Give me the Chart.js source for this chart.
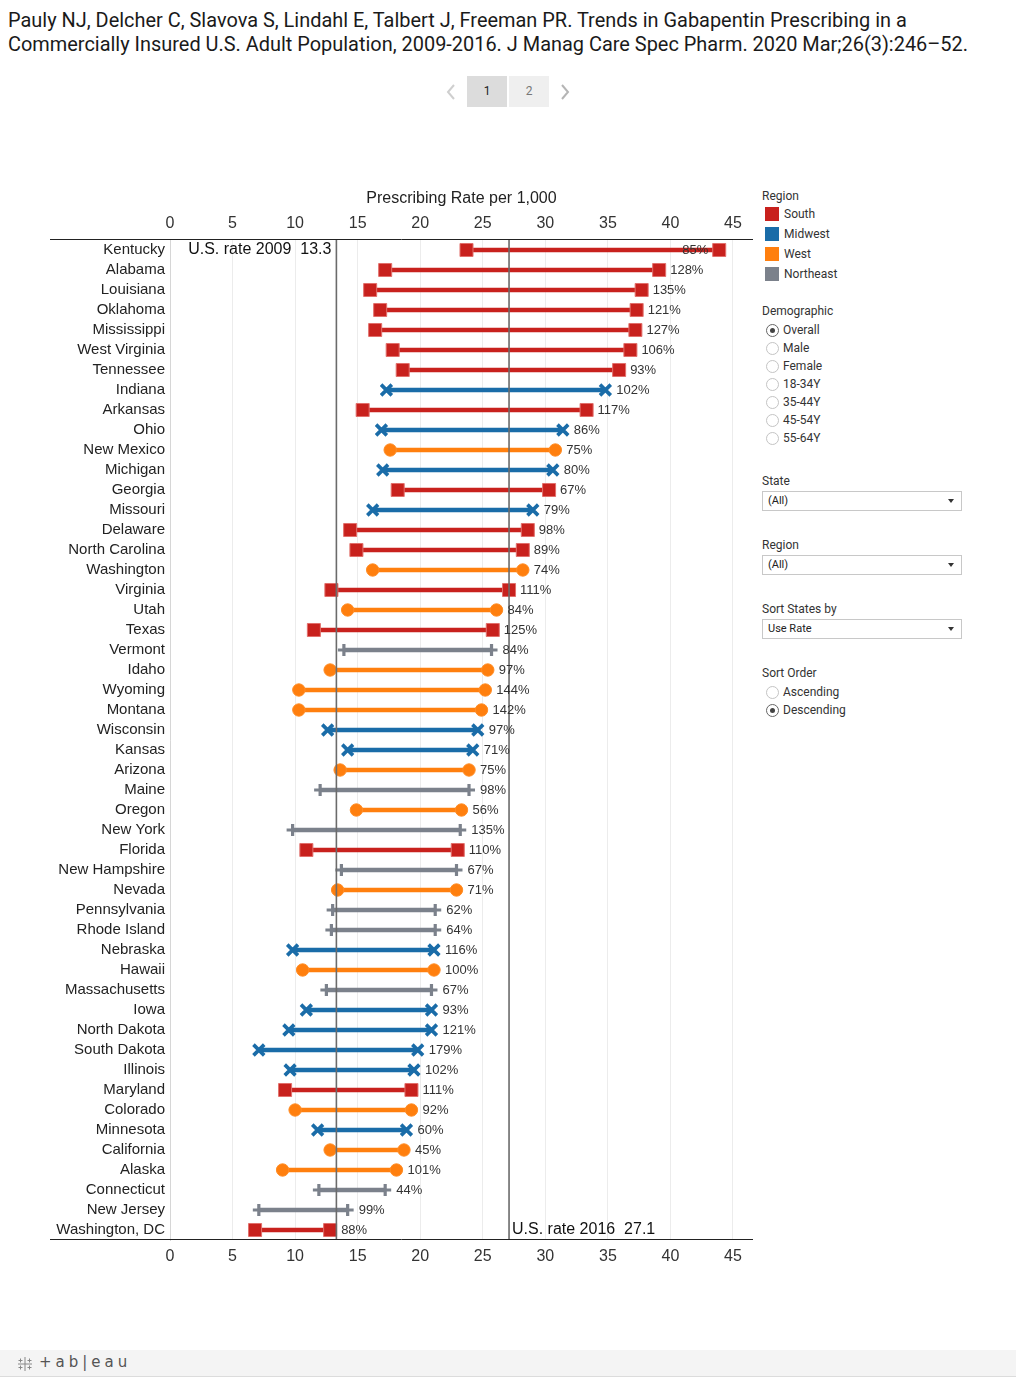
<!DOCTYPE html>
<html>
<head>
<meta charset="utf-8">
<script src="https://cdn.jsdelivr.net/npm/chart.js@4.4.1/dist/chart.umd.min.js"></script>
<style>
  html,body{margin:0;padding:0;background:#fff;}
  body{width:1016px;height:1377px;position:relative;overflow:hidden;font-family:Roboto,"Liberation Sans",sans-serif;color:#333;}
  .abs{position:absolute;white-space:nowrap;}
  .title{left:8px;font-size:20px;line-height:24px;color:#1a1a1a;transform-origin:0 50%;}
  .pg{top:76px;width:40px;height:31px;line-height:31px;text-align:center;font-size:12px;}
  .ptxt{font-size:12px;line-height:16px;color:#333;}
  .sw{width:14px;height:14px;}
  .radio{width:11px;height:11px;border:1px solid #c4c4c4;border-radius:50%;background:#fff;}
  .radio.on{border-color:#666;}
  .radio.on::after{content:"";position:absolute;left:3px;top:3px;width:5px;height:5px;border-radius:50%;background:#444;}
  .dd{width:198px;height:18px;border:1px solid #c8c8c8;font-size:11px;line-height:18px;color:#222;}
  .dd span{position:absolute;left:5px;top:0;}
  .dd i{position:absolute;right:7px;top:7px;width:0;height:0;border-left:3px solid transparent;border-right:3px solid transparent;border-top:4px solid #333;}
  #chartWrap{position:absolute;left:0;top:182px;width:760px;height:1100px;}
  #foot{position:absolute;left:0;top:1350px;width:1016px;height:26px;background:#f4f4f4;border-bottom:1px solid #dcdcdc;}
</style>
</head>
<body>
<div class="abs title" id="t1" style="top:8px;">Pauly NJ, Delcher C, Slavova S, Lindahl E, Talbert J, Freeman PR. Trends in Gabapentin Prescribing in a</div>
<div class="abs title" id="t2" style="top:32px;">Commercially Insured U.S. Adult Population, 2009-2016. J Manag Care Spec Pharm. 2020 Mar;26(3):246&#8211;52.</div>

<svg class="abs" style="left:445px;top:84px;" width="12" height="16"><polyline points="9,1 3,8 9,15" fill="none" stroke="#cfcfcf" stroke-width="2"/></svg>
<div class="abs pg" style="left:467px;background:#dcdcdc;color:#222;">1</div>
<div class="abs pg" style="left:509px;background:#efefef;color:#777;">2</div>
<svg class="abs" style="left:559px;top:84px;" width="12" height="16"><polyline points="3,1 9,8 3,15" fill="none" stroke="#b5b5b5" stroke-width="2"/></svg>

<div id="chartWrap"><canvas id="c" width="760" height="1100"></canvas></div>

<!-- right-hand panel -->
<div class="abs ptxt" style="left:762px;top:188px;">Region</div>
<div id="legendBox"></div>
<div class="abs ptxt" style="left:762px;top:303px;">Demographic</div>
<div id="demoBox"></div>
<div class="abs ptxt" style="left:762px;top:473px;">State</div>
<div class="abs dd" style="left:762px;top:491px;"><span>(All)</span><i></i></div>
<div class="abs ptxt" style="left:762px;top:537px;">Region</div>
<div class="abs dd" style="left:762px;top:555px;"><span>(All)</span><i></i></div>
<div class="abs ptxt" style="left:762px;top:601px;">Sort States by</div>
<div class="abs dd" style="left:762px;top:619px;"><span>Use Rate</span><i></i></div>
<div class="abs ptxt" style="left:762px;top:665px;">Sort Order</div>
<div id="sortBox"></div>

<div id="foot">
  <svg class="abs" style="left:17px;top:6px;" width="16" height="16">
    <g stroke="#888" stroke-width="1">
      <line x1="8" y1="1" x2="8" y2="15"/><line x1="1" y1="8" x2="15" y2="8"/>
      <line x1="3.5" y1="2.5" x2="3.5" y2="6.5"/><line x1="1.5" y1="4.5" x2="5.5" y2="4.5"/>
      <line x1="12.5" y1="2.5" x2="12.5" y2="6.5"/><line x1="10.5" y1="4.5" x2="14.5" y2="4.5"/>
      <line x1="3.5" y1="9.5" x2="3.5" y2="13.5"/><line x1="1.5" y1="11.5" x2="5.5" y2="11.5"/>
      <line x1="12.5" y1="9.5" x2="12.5" y2="13.5"/><line x1="10.5" y1="11.5" x2="14.5" y2="11.5"/>
    </g>
  </svg>
  <div class="abs" style="left:39px;top:3px;font-size:15px;letter-spacing:4px;color:#555;font-family:'DejaVu Sans',sans-serif;">+ab|eau</div>
</div>

<script>
// ---------------- data ----------------
const states = ["Kentucky","Alabama","Louisiana","Oklahoma","Mississippi","West Virginia","Tennessee","Indiana","Arkansas","Ohio",
  "New Mexico","Michigan","Georgia","Missouri","Delaware","North Carolina","Washington","Virginia","Utah","Texas",
  "Vermont","Idaho","Wyoming","Montana","Wisconsin","Kansas","Arizona","Maine","Oregon","New York",
  "Florida","New Hampshire","Nevada","Pennsylvania","Rhode Island","Nebraska","Hawaii","Massachusetts","Iowa","North Dakota",
  "South Dakota","Illinois","Maryland","Colorado","Minnesota","California","Alaska","Connecticut","New Jersey","Washington, DC"];
const stateRegion = ["S","S","S","S","S","S","S","M","S","M",
  "W","M","S","M","S","S","W","S","W","S",
  "N","W","W","W","M","M","W","N","W","N",
  "S","N","W","N","N","M","W","N","M","M",
  "M","M","S","W","M","W","W","N","N","S"];
const rate2009 = [23.7,17.2,16.0,16.8,16.4,17.8,18.6,17.3,15.4,16.9,
  17.6,17.0,18.2,16.2,14.4,14.9,16.2,12.9,14.2,11.5,
  13.9,12.8,10.3,10.3,12.6,14.2,13.6,12.0,14.9,9.8,
  10.9,13.7,13.4,13.0,12.9,9.8,10.6,12.5,10.9,9.5,
  7.1,9.6,9.2,10.0,11.8,12.8,9.0,11.9,7.1,6.8];
const rate2016 = [43.9,39.1,37.7,37.3,37.2,36.8,35.9,34.8,33.3,31.4,
  30.8,30.6,30.3,29.0,28.6,28.2,28.2,27.1,26.1,25.8,
  25.7,25.4,25.2,24.9,24.6,24.2,23.9,23.9,23.3,23.2,
  23.0,22.9,22.9,21.2,21.2,21.1,21.1,20.9,20.9,20.9,
  19.8,19.5,19.3,19.3,18.9,18.7,18.1,17.2,14.2,12.8];
const pctChange = [85,128,135,121,127,106,93,102,117,86,
  75,80,67,79,98,89,74,111,84,125,
  84,97,144,142,97,71,75,98,56,135,
  110,67,71,62,64,116,100,67,93,121,
  179,102,111,92,60,45,101,44,99,88];
const usRate2009 = 13.3;
const usRate2016 = 27.1;
const xTicksStep = 5;
const regionNames = ["South","Midwest","West","Northeast"];
const regionKeys = ["S","M","W","N"];
const demographics = ["Overall","Male","Female","18-34Y","35-44Y","45-54Y","55-64Y"];
const sortOrders = ["Ascending","Descending"];

// ---------------- styles ----------------
const regionColor = {S:"#c8211d", M:"#1a6ca8", W:"#ff7f0e", N:"#7b818b"};
const regionEdge  = {S:"#e2706c", M:"#1a6ca8", W:"#ff8d26", N:"#7b818b"};
const regionStyle = {S:"rect", M:"crossRot", W:"circle", N:"cross"};
const regionRadius = {S:9.2, M:7.6, W:6.2, N:6};
const regionBW = {S:1, M:3.6, W:1, N:3.2};

// title fit
(function(){
  const c = document.createElement("canvas").getContext("2d");
  c.font = "20px Roboto";
  const w = c.measureText(document.getElementById("t2").textContent).width;
  const s = 960 / w;
  ["t1","t2"].forEach(id=>document.getElementById(id).style.transform = "scaleX(" + s + ")");
})();

// side panel
(function(){
  let h = "";
  regionNames.forEach((n,i)=>{
    const cy = 214 + i*20;
    h += `<div class="abs sw" style="left:765px;top:${cy-7}px;background:${regionColor[regionKeys[i]]};"></div>`;
    h += `<div class="abs ptxt" style="left:784px;top:${cy-8}px;">${n}</div>`;
  });
  document.getElementById("legendBox").innerHTML = h;
  h = "";
  demographics.forEach((n,i)=>{
    const cy = 330 + i*18;
    h += `<div class="abs radio${i===0?' on':''}" style="left:766px;top:${cy-6}px;"></div>`;
    h += `<div class="abs ptxt" style="left:783px;top:${cy-8}px;">${n}</div>`;
  });
  document.getElementById("demoBox").innerHTML = h;
  h = "";
  sortOrders.forEach((n,i)=>{
    const cy = 692 + i*18;
    h += `<div class="abs radio${i===1?' on':''}" style="left:766px;top:${cy-6}px;"></div>`;
    h += `<div class="abs ptxt" style="left:783px;top:${cy-8}px;">${n}</div>`;
  });
  document.getElementById("sortBox").innerHTML = h;
})();

// ---------------- chart ----------------
const FONT = "'Liberation Sans', Arial, sans-serif";

const overlay = {
  id: "overlay",
  afterDatasetsDraw(chart){
    const {ctx, chartArea:a} = chart;
    const x = chart.scales.x, y = chart.scales.y;
    ctx.save();
    // reference lines
    ctx.strokeStyle = "#6b6b6b";
    ctx.lineWidth = 1.6;
    [usRate2009, usRate2016].forEach(v=>{
      const px = x.getPixelForValue(v);
      ctx.beginPath(); ctx.moveTo(px, a.top); ctx.lineTo(px, a.bottom); ctx.stroke();
    });
    // reference labels
    ctx.fillStyle = "#111";
    ctx.font = "16px " + FONT;
    ctx.textBaseline = "middle";
    ctx.textAlign = "right";
    ctx.fillText("U.S. rate 2009  " + usRate2009.toFixed(1), x.getPixelForValue(usRate2009) - 5, y.getPixelForValue(0));
    ctx.textAlign = "left";
    ctx.fillText("U.S. rate 2016  " + usRate2016.toFixed(1), x.getPixelForValue(usRate2016) + 3, y.getPixelForValue(states.length - 1));
    // percent labels
    ctx.font = "13px " + FONT;
    ctx.fillStyle = "#333";
    states.forEach((s,i)=>{
      const px = x.getPixelForValue(rate2016[i]);
      const py = y.getPixelForValue(i);
      const txt = pctChange[i] + "%";
      if (rate2016[i] > 42) { ctx.textAlign = "right"; ctx.fillText(txt, px - 11, py + 0.5); }
      else { ctx.textAlign = "left"; ctx.fillText(txt, px + 11, py + 0.5); }
    });
    // top & bottom rules extending under the row labels
    ctx.strokeStyle = "#222";
    ctx.lineWidth = 1;
    [a.top, a.bottom].forEach(py=>{
      const yy = Math.round(py) - 0.5;
      ctx.beginPath(); ctx.moveTo(50, yy); ctx.lineTo(a.right, yy); ctx.stroke();
    });
    ctx.restore();
  }
};

const tickFont = {family: FONT, size: 16};

new Chart(document.getElementById("c"), {
  type: "bar",
  data: {
    labels: states,
    datasets: [
      {
        type: "bar",
        data: states.map((s,i)=>[rate2009[i], rate2016[i]]),
        backgroundColor: stateRegion.map(r=>regionColor[r]),
        borderWidth: 0,
        barThickness: 4,
        xAxisID: "x", yAxisID: "y",
        order: 3
      },
      {
        type: "scatter",
        data: states.map((s,i)=>({x: rate2009[i], y: s})),
        xAxisID: "x", yAxisID: "y",
        order: 1,
        pointStyle: c=>regionStyle[stateRegion[c.dataIndex]],
        pointRadius: c=>regionRadius[stateRegion[c.dataIndex]],
        pointBackgroundColor: c=>regionColor[stateRegion[c.dataIndex]],
        pointBorderColor: c=>regionEdge[stateRegion[c.dataIndex]],
        pointBorderWidth: c=>regionBW[stateRegion[c.dataIndex]]
      },
      {
        type: "scatter",
        data: states.map((s,i)=>({x: rate2016[i], y: s})),
        xAxisID: "x", yAxisID: "y",
        order: 1,
        pointStyle: c=>regionStyle[stateRegion[c.dataIndex]],
        pointRadius: c=>regionRadius[stateRegion[c.dataIndex]],
        pointBackgroundColor: c=>regionColor[stateRegion[c.dataIndex]],
        pointBorderColor: c=>regionEdge[stateRegion[c.dataIndex]],
        pointBorderWidth: c=>regionBW[stateRegion[c.dataIndex]]
      }
    ]
  },
  options: {
    indexAxis: "y",
    responsive: false,
    animation: false,
    devicePixelRatio: 1,
    events: [],
    layout: {autoPadding: false, padding: {left: 0, right: 7, top: 0, bottom: 0}},
    plugins: {legend: {display: false}, tooltip: {enabled: false}},
    scales: {
      x: {
        type: "linear", position: "top", min: 0, max: 46.6,
        grid: {color: "#ececec", drawTicks: false},
        border: {display: false},
        ticks: {stepSize: xTicksStep, includeBounds: false, font: tickFont, color: "#333", padding: 7},
        title: {display: true, text: "Prescribing Rate per 1,000", font: tickFont, color: "#222", padding: {top: 7, bottom: 0}},
        afterFit(s){ s.height = 58; }
      },
      x2: {
        type: "linear", axis: "x", position: "bottom", min: 0, max: 46.6,
        grid: {display: false, drawTicks: false},
        border: {display: false},
        ticks: {stepSize: xTicksStep, includeBounds: false, font: tickFont, color: "#333", padding: 7},
        afterFit(s){ s.height = 42; }
      },
      y: {
        type: "category", position: "left", offset: true,
        grid: {display: false, drawTicks: false},
        border: {display: true, color: "#d6d6d6", width: 1},
        ticks: {font: {family: FONT, size: 15}, color: "#222", padding: 5, autoSkip: false},
        afterFit(s){ s.width = 170; }
      }
    }
  },
  plugins: [overlay]
});
</script>
</body>
</html>
